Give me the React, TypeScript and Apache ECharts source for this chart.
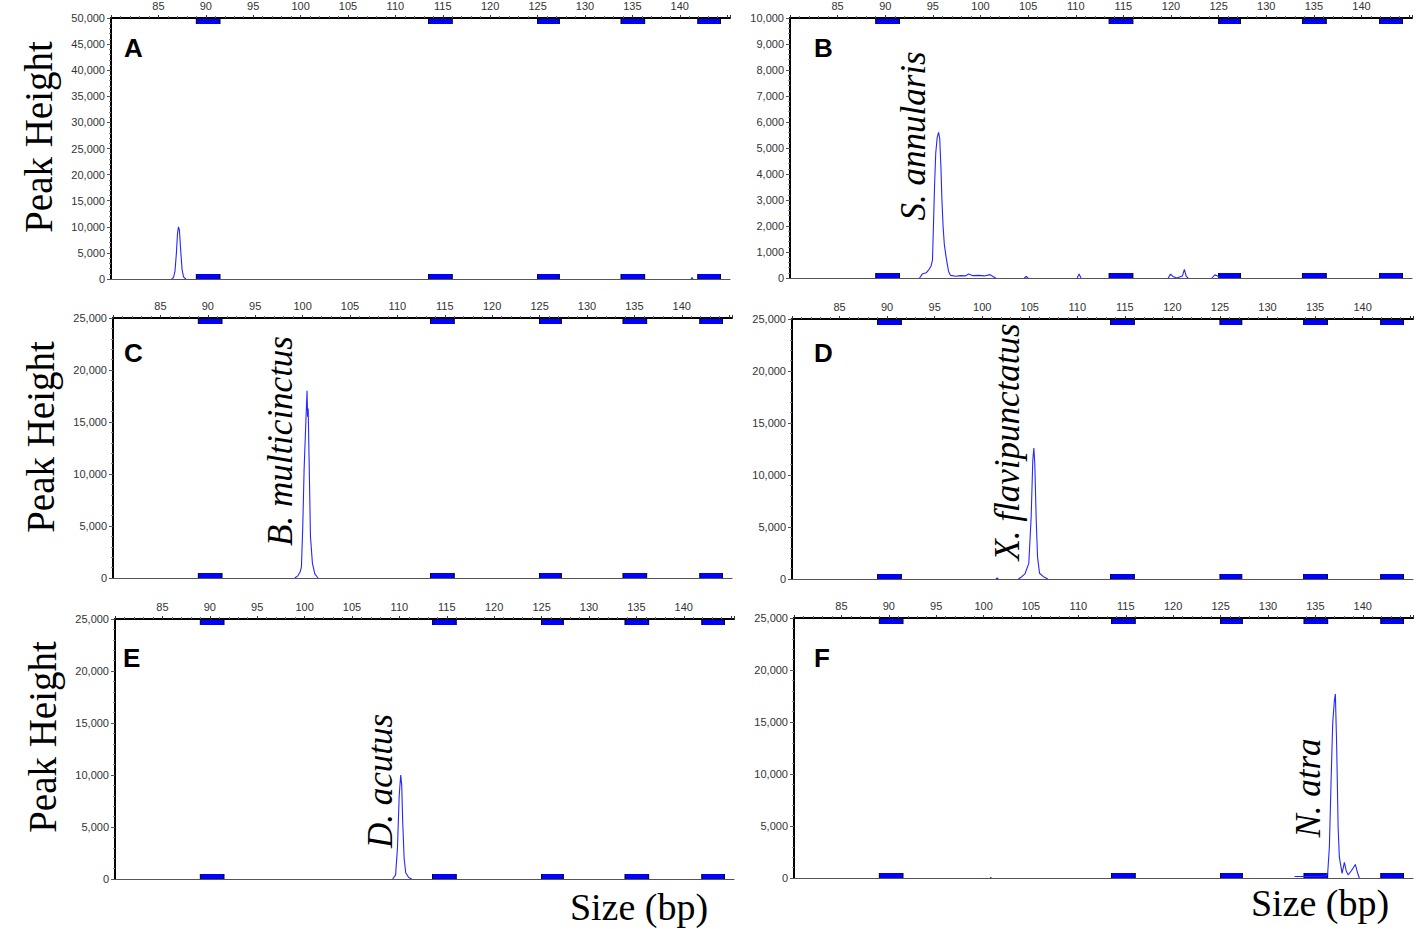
import React, { useEffect, useRef } from "react";
import * as echarts from "echarts";

// ---------- data ----------
const panelIds = ["A", "B", "C", "D", "E", "F"];
const xMin = 80;
const xMax = 145.3;
const yMaxes = [50000, 10000, 25000, 25000, 25000, 25000];
const yIntervals = [5000, 1000, 5000, 5000, 5000, 5000];

// size-standard bin markers (bp)
const binStarts = [89, 113.5, 125, 133.8, 141.9];
const binEnds = [91.5, 116, 127.3, 136.3, 144.3];

// electropherogram traces: [size bp, peak height]
const traceA = [
  [86.4, 0], [86.6, 300], [86.75, 1500], [86.9, 5000], [87.02, 8800], [87.12, 10000],
  [87.22, 9300], [87.35, 5500], [87.5, 1800], [87.65, 400], [87.9, 0],
];
const traceA2 = [[141.2, 0], [141.3, 300], [141.4, 0]];

const traceB = [
  [93.6, 0], [93.88, 150], [94.3, 200], [94.54, 300], [94.8, 450], [94.96, 700],
  [95.06, 2000], [95.18, 3600], [95.3, 4800], [95.45, 5400], [95.6, 5600], [95.72, 5350],
  [95.85, 4200], [95.95, 3000], [96.07, 2000], [96.2, 1300], [96.35, 900], [96.5, 550],
  [96.65, 250], [96.86, 100], [97.4, 70], [97.9, 90], [98.4, 80], [98.75, 150],
  [99.2, 90], [99.8, 100], [100.4, 80], [101.0, 130], [101.3, 60], [101.6, 0],
];
const traceB2 = [[104.6, 0], [104.8, 60], [105.0, 0]];
const traceB3 = [[110.15, 0], [110.35, 150], [110.55, 0]];
const traceB4 = [
  [119.7, 0], [119.95, 150], [120.2, 60], [120.6, 0], [121.2, 80], [121.4, 330],
  [121.6, 60], [121.8, 0],
];
const traceB5 = [[124.3, 0], [124.6, 120], [124.9, 80], [125.1, 0]];

const traceC = [
  [99.18, 0], [99.49, 200], [99.75, 600], [99.88, 1100], [100.02, 5000], [100.16, 10400],
  [100.34, 14900], [100.47, 18000], [100.53, 15500], [100.59, 16300], [100.68, 11700],
  [100.83, 4000], [101.04, 1400], [101.29, 400], [101.63, 0],
];

const traceD = [[101.45, 0], [101.57, 100], [101.7, 0]];
const traceD2 = [
  [103.8, 0], [104.13, 200], [104.5, 500], [104.9, 1500], [105.15, 6000], [105.32, 11400],
  [105.43, 12600], [105.53, 11100], [105.68, 5700], [105.82, 2100], [106.03, 550],
  [106.4, 250], [106.7, 100], [106.9, 0],
];

const traceE = [
  [109.29, 0], [109.6, 400], [109.8, 3000], [109.98, 8000], [110.14, 10000], [110.25, 9000],
  [110.35, 5500], [110.5, 2000], [110.67, 600], [110.98, 150], [111.3, 0],
];

const traceF = [[100.7, 0], [100.76, 60], [100.82, 0]];
const traceF2 = [
  [132.8, 150], [133.5, 150], [134.5, 150], [135.5, 150], [136.1, 200], [136.3, 450],
  [136.48, 3000], [136.66, 9400], [136.83, 14900], [137.0, 17000], [137.11, 17700],
  [137.25, 12600], [137.4, 4900], [137.53, 2000], [137.82, 450], [138.06, 1500],
  [138.25, 700], [138.45, 300], [138.8, 700], [139.22, 1300], [139.45, 500], [139.64, 0],
];

const panelTraces = [
  [traceA, traceA2],
  [traceB, traceB2, traceB3, traceB4, traceB5],
  [traceC],
  [traceD, traceD2],
  [traceE],
  [traceF, traceF2],
];

const speciesLabels = ["", "S. annularis", "B. multicinctus", "X. flavipunctatus", "D. acutus", "N. atra"];

// ---------- layout ----------
const grids = [
  { left: 111, top: 17, width: 619, height: 262 },
  { left: 790, top: 17, width: 622, height: 261 },
  { left: 113, top: 318, width: 619, height: 260 },
  { left: 792, top: 319, width: 621, height: 260 },
  { left: 115, top: 619, width: 619, height: 260 },
  { left: 794, top: 618, width: 619, height: 260 },
];
const letterPos = [
  [124, 48], [814, 48], [124, 353], [814, 353], [123, 658], [814, 658],
];
const speciesPos = [
  [0, 0], [913, 136], [280, 441], [1007, 442], [380, 781], [1308, 788],
];
const peakHeightPos = [[38, 137], [40, 437], [42, 737]];
const sizePos = [[639, 907], [1320, 903]];

const TRACE_COLOR = "#2626ff";
const LABEL_FONT = "'Liberation Sans', Arial, sans-serif";
const SERIF = "'Liberation Serif', 'Times New Roman', serif";

export default function App() {
  const ref = useRef<HTMLDivElement>(null);

  useEffect(() => {
    document.body.style.margin = "0";
    const chart = echarts.init(ref.current as HTMLDivElement, undefined, { renderer: "svg" });

    const xAxis: any[] = [];
    const yAxis: any[] = [];
    const series: any[] = [];

    grids.forEach((g, i) => {
      xAxis.push({
        type: "value",
        gridIndex: i,
        position: "top",
        min: xMin,
        max: xMax,
        interval: 5,
        axisLine: { show: true, onZero: false, lineStyle: { color: "#000", width: 2 } },
        axisTick: { show: true, length: 3, lineStyle: { color: "#333" } },
        minorTick: { show: true, splitNumber: 5, length: 2, lineStyle: { color: "#666" } },
        axisLabel: {
          margin: 7,
          fontSize: 11,
          color: "#333",
          fontFamily: LABEL_FONT,
          formatter: (v: number) => (v > xMin && v < 145 ? String(v) : ""),
        },
        splitLine: { show: false },
      });
      xAxis.push({
        type: "value",
        gridIndex: i,
        position: "bottom",
        min: xMin,
        max: xMax,
        interval: 5,
        axisLine: { show: true, onZero: false, lineStyle: { color: "#555", width: 1.2 } },
        axisTick: { show: false },
        axisLabel: { show: false },
        splitLine: { show: false },
      });
      yAxis.push({
        type: "value",
        gridIndex: i,
        min: 0,
        max: yMaxes[i],
        interval: yIntervals[i],
        axisLine: { show: true, onZero: false, lineStyle: { color: "#000", width: 2 } },
        axisTick: { show: true, length: 4, lineStyle: { color: "#555" } },
        minorTick: { show: true, splitNumber: 5, length: 2, lineStyle: { color: "#888" } },
        axisLabel: {
          margin: 6,
          fontSize: 11,
          color: "#333",
          fontFamily: LABEL_FONT,
          formatter: (v: number) => v.toLocaleString("en-US"),
        },
        splitLine: { show: false },
      });

      series.push({
        type: "custom",
        xAxisIndex: 2 * i,
        yAxisIndex: i,
        data: binStarts.map((s, k) => [s, binEnds[k], 0]),
        encode: { x: [0, 1], y: 2 },
        silent: true,
        renderItem: (params: any, api: any) => {
          const cs = params.coordSys;
          const x0 = api.coord([api.value(0), 0])[0];
          const x1 = api.coord([api.value(1), 0])[0];
          const h = 5;
          const top = cs.y;
          const bot = cs.y + cs.height;
          return {
            type: "group",
            children: [
              { type: "rect", shape: { x: x0, y: top + 1, width: x1 - x0, height: h }, style: { fill: "#0000ff" } },
              { type: "rect", shape: { x: x0, y: bot - h, width: x1 - x0, height: h }, style: { fill: "#0000ff" } },
              { type: "line", shape: { x1: x0, y1: top, x2: x0, y2: top + h + 1 }, style: { stroke: "#000", lineWidth: 1 } },
              { type: "line", shape: { x1: x1, y1: top, x2: x1, y2: top + h + 1 }, style: { stroke: "#000", lineWidth: 1 } },
              { type: "line", shape: { x1: x0, y1: bot - h, x2: x0, y2: bot }, style: { stroke: "#000", lineWidth: 1 } },
              { type: "line", shape: { x1: x1, y1: bot - h, x2: x1, y2: bot }, style: { stroke: "#000", lineWidth: 1 } },
            ],
          };
        },
      });

      panelTraces[i].forEach((tr) => {
        series.push({
          type: "line",
          xAxisIndex: 2 * i,
          yAxisIndex: i,
          data: tr,
          showSymbol: false,
          symbol: "none",
          silent: true,
          lineStyle: { color: TRACE_COLOR, width: 1.1 },
          z: 3,
        });
      });
    });

    const graphic: any[] = [];
    panelIds.forEach((id, i) => {
      graphic.push({
        type: "text",
        x: letterPos[i][0],
        y: letterPos[i][1],
        style: {
          text: id,
          font: `bold 26px ${LABEL_FONT}`,
          fill: "#000",
          align: "left",
          verticalAlign: "middle",
        },
      });
      if (speciesLabels[i]) {
        graphic.push({
          type: "text",
          x: speciesPos[i][0],
          y: speciesPos[i][1],
          rotation: Math.PI / 2,
          style: {
            text: speciesLabels[i],
            font: `italic 35px ${SERIF}`,
            fill: "#000",
            align: "center",
            verticalAlign: "middle",
          },
        });
      }
    });
    peakHeightPos.forEach((p) => {
      graphic.push({
        type: "text",
        x: p[0],
        y: p[1],
        rotation: Math.PI / 2,
        style: {
          text: "Peak Height",
          font: `39px ${SERIF}`,
          fill: "#000",
          align: "center",
          verticalAlign: "middle",
        },
      });
    });
    sizePos.forEach((p) => {
      graphic.push({
        type: "text",
        x: p[0],
        y: p[1],
        style: {
          text: "Size (bp)",
          font: `38px ${SERIF}`,
          fill: "#000",
          align: "center",
          verticalAlign: "middle",
        },
      });
    });

    chart.setOption({
      animation: false,
      backgroundColor: "#fff",
      grid: grids.map((g) => ({ ...g, containLabel: false })),
      xAxis,
      yAxis,
      series,
      graphic,
    });

    return () => chart.dispose();
  }, []);

  return <div ref={ref} style={{ width: 1416, height: 929 }} />;
}
